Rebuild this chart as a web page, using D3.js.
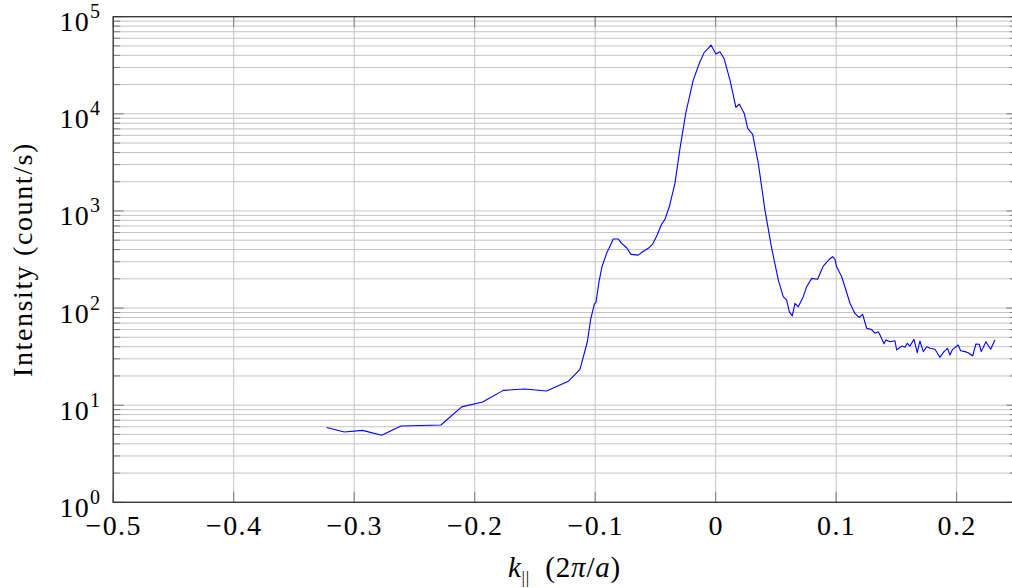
<!DOCTYPE html>
<html>
<head>
<meta charset="utf-8">
<script src="https://cdn.jsdelivr.net/npm/d3@7"></script>
<style>
  html, body { margin: 0; padding: 0; background: #fff; }
  svg { display: block; }
  text { font-family: "Liberation Serif", "Times New Roman", serif; fill: #000; }
</style>
</head>
<body>
<svg id="chart" width="1012" height="588"></svg>
<script>
// Parallel momentum (units of 2π/a) and measured intensity (count/s)
const kPar = [
  -0.3228, -0.3082, -0.2930, -0.2772, -0.2612, -0.2280, -0.2108, -0.1934, -0.1763, -0.1583,
  -0.1403, -0.1223, -0.1126, -0.1065, -0.1037, -0.1007, -0.0993, -0.0968, -0.0944, -0.0905,
  -0.0885, -0.0850, -0.0808, -0.0786, -0.0739, -0.0703, -0.0642, -0.0606, -0.0559, -0.0523,
  -0.0485, -0.0448, -0.0421, -0.0385, -0.0338, -0.0296, -0.0246, -0.0186, -0.0136, -0.0095,
  -0.0061, -0.0039, 0.0002, 0.0036, 0.0069, 0.0119, 0.0168, 0.0196, 0.0237, 0.0266,
  0.0307, 0.0354, 0.0409, 0.0465, 0.0520, 0.0561, 0.0589, 0.0611, 0.0636, 0.0658,
  0.0686, 0.0727, 0.0755, 0.0797, 0.0846, 0.0893, 0.0943, 0.0971, 0.0990, 0.1004,
  0.1046, 0.1115, 0.1156, 0.1189, 0.1220, 0.1253, 0.1295, 0.1322, 0.1349, 0.1363,
  0.1397, 0.1413, 0.1447, 0.1488, 0.1502, 0.1544, 0.1571, 0.1590, 0.1612, 0.1646,
  0.1673, 0.1695, 0.1723, 0.1751, 0.1778, 0.1820, 0.1861, 0.1895, 0.1925, 0.1944,
  0.1967, 0.2013, 0.2033, 0.2069, 0.2096, 0.2133, 0.2160, 0.2188, 0.2204, 0.2243,
  0.2282, 0.2318
];
const intensity = [
  5.9, 5.3, 5.5, 4.9, 6.1, 6.25, 9.6, 10.8, 14.2, 14.7,
  14.0, 17.6, 23.4, 45, 77, 110, 115, 187, 266, 366,
  412, 514, 514, 471, 418, 357, 351, 380, 412, 456,
  565, 733, 819, 1104, 1922, 4410, 10500, 22200, 33000, 42900,
  47200, 51000, 41200, 43500, 37200, 22200, 11650, 12600, 10100, 7080,
  6140, 3090, 1021, 412, 194, 131, 121, 92, 83, 112,
  103, 131, 166, 202, 198, 271, 318, 338, 318, 266,
  210, 112, 88, 80, 86, 62, 60, 55, 57, 53,
  43, 47, 45, 46, 37, 40.6, 39.5, 43.4, 40.6, 47.6,
  34.7, 45.8, 35.6, 40.0, 38.5, 37.6, 31.1, 35.6, 38.5, 32.8,
  37.6, 41.6, 36.4, 35.6, 34.7, 32.1, 42.7, 42.4, 35.6, 45.0,
  37.6, 46.9
];
const xTicks = [-0.5, -0.4, -0.3, -0.2, -0.1, 0, 0.1, 0.2];
const yDecades = [0, 1, 2, 3, 4, 5];

const svg = d3.select("#chart");
const plotL = 113.2, plotR = 1016.9, plotT = 16.7, plotB = 502.3;

const x = d3.scaleLinear().domain([-0.5, 0.25]).range([plotL, plotR]);
const y = d3.scaleLog().domain([1, 1e5]).range([plotB, plotT]);

const minorY = [];
for (let d = 0; d < 5; d++) for (let m = 2; m <= 9; m++) minorY.push(m * Math.pow(10, d));
const majorY = yDecades.map(d => Math.pow(10, d));

const gridColor = "#c4c4c4";
const tickColor = "#7a7a7a";

// grid lines
const grid = svg.append("g");
grid.selectAll(".hy").data(minorY.concat(majorY)).join("line")
  .attr("x1", plotL).attr("x2", plotR)
  .attr("y1", d => y(d)).attr("y2", d => y(d))
  .attr("stroke", gridColor).attr("stroke-width", 1);
grid.selectAll(".vx").data(xTicks).join("line")
  .attr("x1", d => x(d)).attr("x2", d => x(d))
  .attr("y1", plotT).attr("y2", plotB)
  .attr("stroke", gridColor).attr("stroke-width", 1);

// inward tick marks on all four sides
const ticks = svg.append("g").attr("stroke", tickColor).attr("stroke-width", 1);
[[plotL, 1], [plotR, -1]].forEach(([x0, dir]) => {
  ticks.append("g").selectAll("line").data(majorY).join("line")
    .attr("x1", x0).attr("x2", x0 + dir * 10.5)
    .attr("y1", d => y(d)).attr("y2", d => y(d));
  ticks.append("g").selectAll("line").data(minorY).join("line")
    .attr("x1", x0).attr("x2", x0 + dir * 7)
    .attr("y1", d => y(d)).attr("y2", d => y(d));
});
[[plotB, -1], [plotT, 1]].forEach(([y0, dir]) => {
  ticks.append("g").selectAll("line").data(xTicks).join("line")
    .attr("x1", d => x(d)).attr("x2", d => x(d))
    .attr("y1", y0).attr("y2", y0 + dir * 10.5);
});

// data line
const line = d3.line()
  .x((d, i) => x(kPar[i]))
  .y(d => y(d));
svg.append("path")
  .datum(intensity)
  .attr("d", line)
  .attr("fill", "none")
  .attr("stroke", "#0000ff")
  .attr("stroke-width", 1.1)
  .attr("stroke-linejoin", "round");

// frame
svg.append("rect")
  .attr("x", plotL).attr("y", plotT)
  .attr("width", plotR - plotL).attr("height", plotB - plotT)
  .attr("fill", "none").attr("stroke", "#333").attr("stroke-width", 1.3);

// x axis labels
const fmtX = d => (d < 0 ? "\u2212" : "") + (d === 0 ? "0" : Math.abs(d).toFixed(1));
const xAxis = d3.axisBottom(x).tickValues(xTicks).tickFormat(fmtX).tickSize(0).tickPadding(0);
const gx = svg.append("g").attr("transform", `translate(0,${plotB})`).call(xAxis);
gx.select(".domain").remove();
gx.attr("font-family", null).attr("font-size", null);
gx.selectAll("text")
  .attr("dy", null).attr("y", 32.5)
  .style("font-size", "28px").style("letter-spacing", "1.4px");

// y axis labels with superscript exponents
const yAxis = d3.axisLeft(y).tickValues(majorY).tickSize(0).tickPadding(0).tickFormat("");
const gy = svg.append("g").attr("transform", `translate(${plotL},0)`).call(yAxis);
gy.select(".domain").remove();
gy.attr("font-family", null).attr("font-size", null);
gy.selectAll(".tick text")
  .attr("x", -12).attr("dy", null).attr("y", 14)
  .attr("text-anchor", "end")
  .style("font-size", "28px").style("letter-spacing", "1.2px")
  .each(function(d) {
    const t = d3.select(this);
    t.text(null);
    t.append("tspan").text("10");
    t.append("tspan").attr("dy", -13).style("font-size", "20px").text(Math.round(Math.log10(d)));
  });

// axis titles
const xt = svg.append("text")
  .attr("x", 564.5).attr("y", 577)
  .attr("text-anchor", "middle")
  .style("font-size", "29px").style("letter-spacing", "0.8px");
xt.append("tspan").style("font-style", "italic").text("k");
xt.append("tspan").attr("dy", 6).style("font-size", "17px").text("||");
xt.append("tspan").attr("dy", -6).text("\u2002(2");
xt.append("tspan").style("font-style", "italic").text("\u03c0");
xt.append("tspan").text("/");
xt.append("tspan").style("font-style", "italic").text("a");
xt.append("tspan").text(")");

svg.append("text")
  .attr("transform", `translate(32,${(plotT + plotB) / 2}) rotate(-90)`)
  .attr("text-anchor", "middle")
  .style("font-size", "28px").style("letter-spacing", "1.6px")
  .text("Intensity (count/s)");
</script>
</body>
</html>
